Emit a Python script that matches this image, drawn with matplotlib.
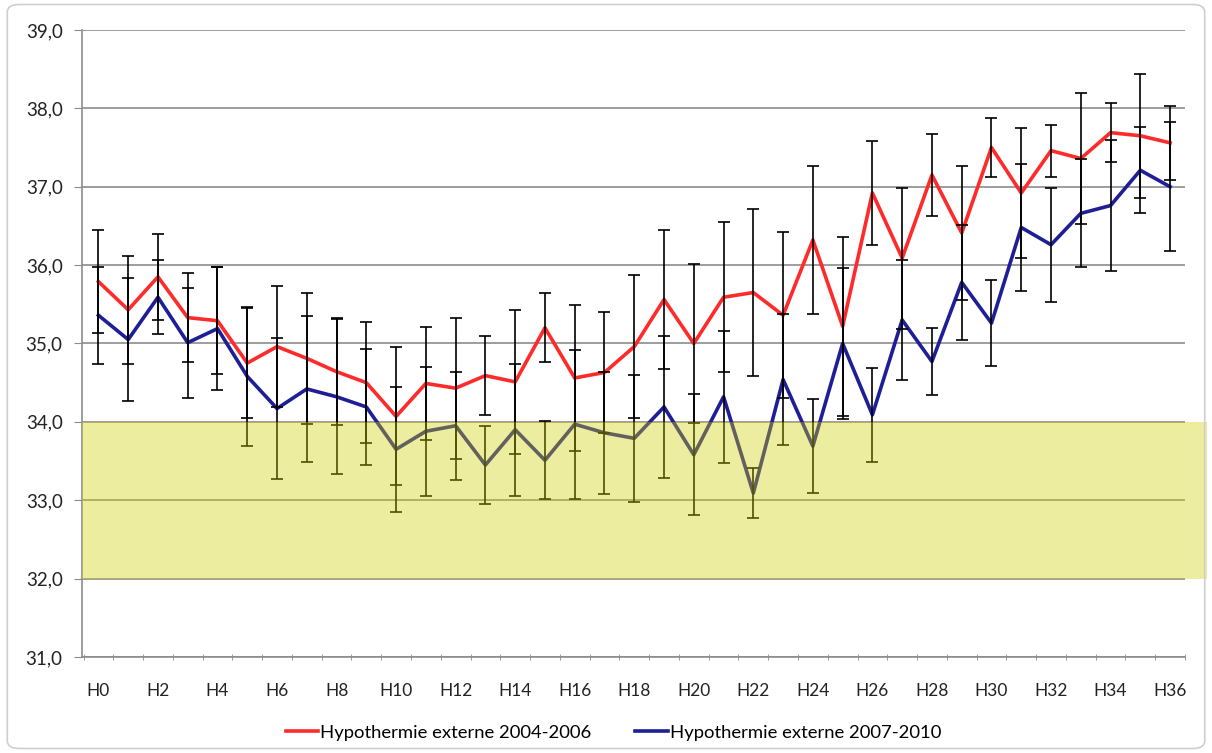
import numpy as np
import matplotlib.pyplot as plt
from matplotlib.patches import Rectangle, FancyBboxPatch
from matplotlib.lines import Line2D

plt.rcParams['font.family'] = ['Lato', 'DejaVu Sans']

# Hours H0..H36
hours = ['H%d' % i for i in range(37)]

# Hypothermie externe 2004-2006 (mean, error)
red_mean = [35.79, 35.43, 35.85, 35.33, 35.29, 34.75, 34.96, 34.81, 34.64, 34.50,
            34.07, 34.49, 34.43, 34.59, 34.51, 35.20, 34.56, 34.63, 34.96, 35.56,
            35.00, 35.59, 35.65, 35.36, 36.32, 35.22, 36.92, 36.09, 37.15, 36.41,
            37.50, 36.92, 37.46, 37.36, 37.69, 37.65, 37.56]
red_err = [0.66, 0.69, 0.55, 0.57, 0.68, 0.70, 0.77, 0.84, 0.68, 0.77,
           0.88, 0.72, 0.90, 0.50, 0.92, 0.44, 0.93, 0.77, 0.91, 0.89,
           1.02, 0.96, 1.07, 1.06, 0.94, 1.14, 0.66, 0.90, 0.52, 0.85,
           0.38, 0.83, 0.33, 0.83, 0.38, 0.79, 0.47]

# Hypothermie externe 2007-2010 (mean, error)
blue_mean = [35.36, 35.05, 35.59, 35.01, 35.19, 34.58, 34.17, 34.42, 34.32, 34.19,
             33.65, 33.88, 33.95, 33.45, 33.90, 33.51, 33.97, 33.86, 33.79, 34.19,
             33.58, 34.32, 33.09, 34.54, 33.69, 35.00, 34.09, 35.30, 34.77, 35.78,
             35.26, 36.48, 36.26, 36.66, 36.76, 37.21, 37.00]
blue_err = [0.62, 0.78, 0.47, 0.70, 0.78, 0.89, 0.90, 0.93, 0.99, 0.74,
            0.80, 0.82, 0.69, 0.50, 0.84, 0.50, 0.95, 0.78, 0.81, 0.90,
            0.77, 0.84, 0.32, 0.83, 0.60, 0.96, 0.60, 0.77, 0.43, 0.73,
            0.55, 0.81, 0.73, 0.69, 0.84, 0.55, 0.82]

# target zone
zone_low, zone_high = 32, 34

x = np.arange(len(hours))

fig = plt.figure(figsize=(12.12, 7.53), dpi=100)
ax = fig.add_axes([0.0677, 0.1275, 0.9100, 0.8327])

ax.errorbar(x, red_mean, yerr=red_err, fmt='none', ecolor='black', elinewidth=1.2,
            capsize=4, capthick=1.2, zorder=4)
ax.errorbar(x, blue_mean, yerr=blue_err, fmt='none', ecolor='black', elinewidth=1.2,
            capsize=4, capthick=1.2, zorder=4)
ax.plot(x, red_mean, color='#ff2a2a', lw=2.6, zorder=3)
ax.plot(x, blue_mean, color='#1e1e96', lw=2.6, zorder=3)

# yellow band drawn over the lines, reaching past the plot to the right
ax.add_patch(Rectangle((-0.55, zone_low), 37.8, zone_high - zone_low,
                       facecolor=(210/255, 208/255, 5/255), alpha=0.38,
                       edgecolor='none', zorder=5, clip_on=False))

ax.set_xlim(-0.55, 36.5)
ax.set_ylim(31, 39)
ax.set_yticks(np.arange(31, 40))
ax.set_yticklabels(['%d,0' % v for v in range(31, 40)], fontsize=13.5, color='#222222')
ax.yaxis.grid(True, color='#8c8c8c', lw=1.2, zorder=0)
ax.set_axisbelow(True)

ax.set_xticks(x[::2])
ax.set_xticklabels(hours[::2], fontsize=12.5, color='#222222')
ax.set_xticks(np.arange(-0.5, 37, 1), minor=True)
ax.tick_params(axis='x', which='major', length=0, pad=19)
ax.tick_params(axis='x', which='minor', length=4, direction='inout', color='#8c8c8c')
ax.tick_params(axis='y', length=6, color='#8c8c8c', pad=8)

for s in ['top', 'right']:
    ax.spines[s].set_visible(False)
for s in ['left', 'bottom']:
    ax.spines[s].set_color('#8c8c8c')
    ax.spines[s].set_linewidth(1.2)

handles = [Line2D([0], [0], color='#ff2a2a', lw=2.6),
           Line2D([0], [0], color='#1e1e96', lw=2.6)]
fig.legend(handles, ['Hypothermie externe 2004-2006', 'Hypothermie externe 2007-2010'],
           loc='center', bbox_to_anchor=(0.506, 0.027), ncol=2, frameon=False,
           fontsize=13.3, handlelength=1.75, handletextpad=0.1, columnspacing=2.4)

# outer chart frame
fig.patches.append(FancyBboxPatch((0.006, 0.006), 0.988, 0.988,
                                  boxstyle='round,pad=0,rounding_size=0.01',
                                  transform=fig.transFigure, fill=False,
                                  edgecolor='#cfcfcf', lw=1.2))

fig.savefig('out.png', dpi=100)
